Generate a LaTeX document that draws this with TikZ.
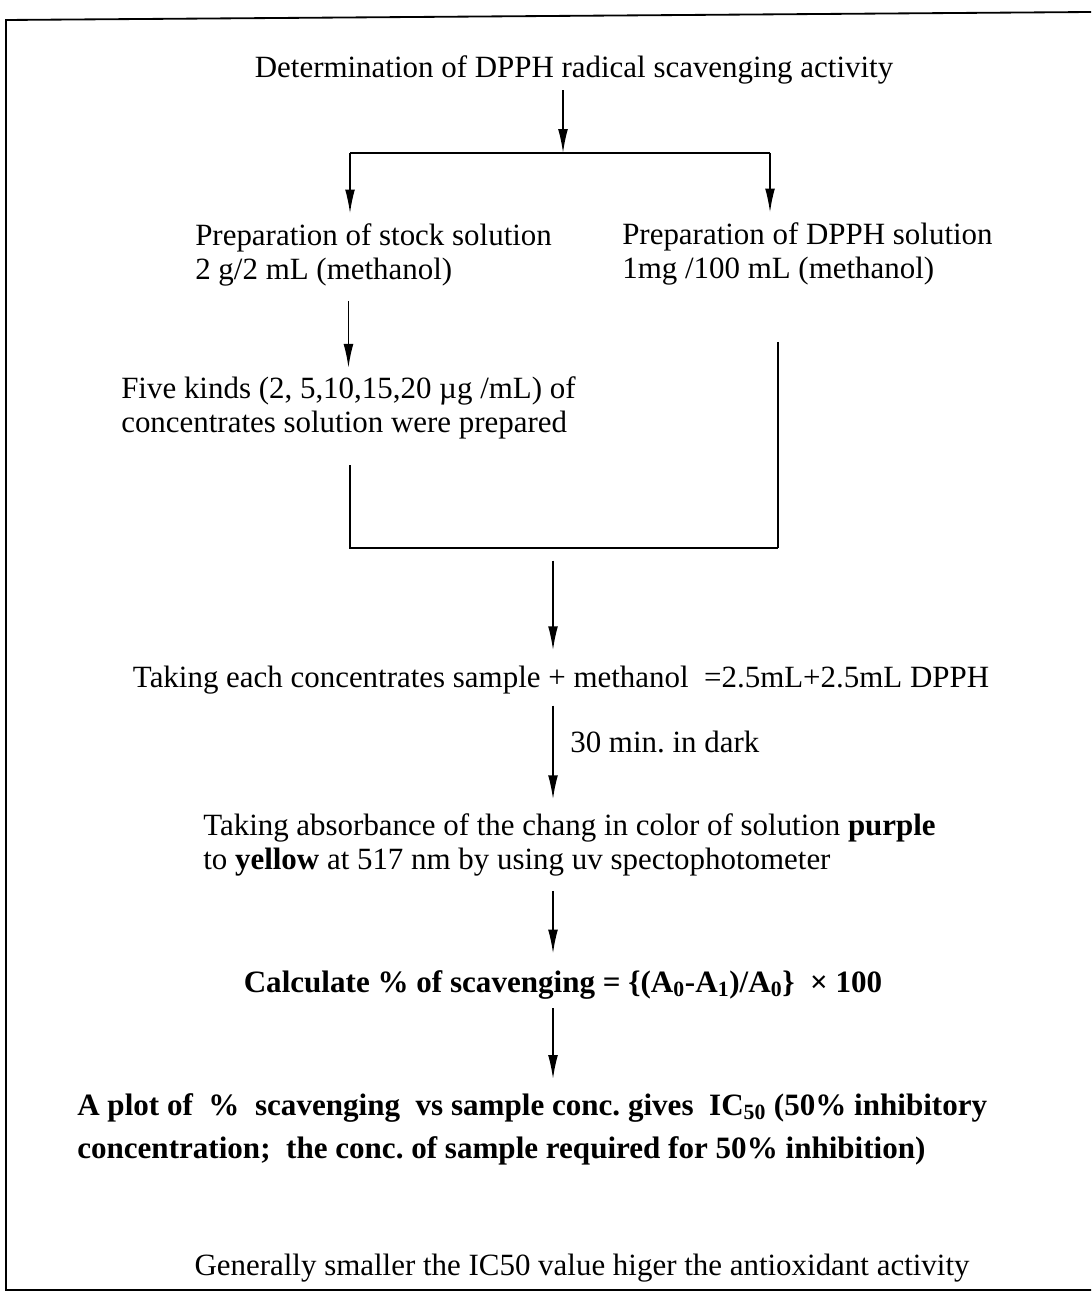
\documentclass[tikz,border=0pt]{standalone}
\usepackage{fontspec}
\setmainfont{Liberation Serif}
\usetikzlibrary{arrows.meta, positioning, calc}

\begin{document}
\frenchspacing
\begin{tikzpicture}[
    x=0.025cm, y=-0.025cm,
    txt/.style={inner sep=0pt, align=left, font=\fontsize{22}{24.5}\selectfont},
    boldtxt/.style={txt, font=\fontsize{22.1}{30.5}\selectfont\bfseries},
    arrow/.style={-{Latex[length=17pt, width=7pt]}, line width=1.1pt},
    link/.style={line width=1.1pt},
    frame/.style={line width=1.3pt}
]
\useasboundingbox (0,0) rectangle (1091,1299);

% =================== FRAME ===================
\coordinate (fTL) at (6,20);
\coordinate (fTR) at (1091,12);
\coordinate (fBL) at (6,1290);
\coordinate (fBR) at (1091,1290);
\draw[frame] (fTR) -- (fTL) -- (fBL) -- (fBR);

% =================== TITLE AND SPLIT ===================
\node[txt] (title) at (574,70) {Determination of DPPH radical scavenging activity};

\coordinate (barL) at (350,153);
\coordinate (barM) at (563,153);
\coordinate (barR) at (770,153);

\draw[arrow, shorten <=4pt] (barM |- title.south) -- (barM);
\draw[link] (barL) -- (barR);

% =================== TWO SOLUTIONS ===================
\node[txt, anchor=west] (stock) at (195,255)
    {Preparation of stock solution\\2 g/2 mL (methanol)};
\node[txt, anchor=west] (dpph) at (622,254)
    {Preparation of DPPH solution\\1mg /100 mL (methanol)};

\draw[arrow, shorten >=7pt] (barL) -- (barL |- stock.north);
\draw[arrow, shorten >=7pt] (barR) -- (barR |- dpph.north);

% five concentrations
\node[txt, anchor=west] (five) at (121,408)
    {Five kinds (2, 5,10,15,20 µg /mL) of\\concentrates solution were prepared};

\draw[arrow, shorten <=10pt, shorten >=6pt] (stock.south -| five.north) -- (five.north);

% =================== MERGE ===================
\coordinate (mergeL) at (350,548);
\coordinate (mergeM) at (553,548);
\coordinate (mergeR) at (778,548);

\draw[link, shorten <=18pt] (five.south -| mergeL) -- (mergeL) -- (mergeR);
\draw[link, shorten <=40pt] (dpph.south -| mergeR) -- (mergeR);

% =================== MIXING ===================
\node[txt] (mix) at (561,680)
    {Taking each concentrates sample + methanol \ =2.5mL+2.5mL DPPH};

\draw[arrow, shorten <=9pt, shorten >=11pt] (mergeM) -- (mergeM |- mix.north);

\node[txt, anchor=west] (dark) at (570,742) {30 min. in dark};

\node[txt, anchor=west] (absorb) at (203,845)
    {Taking absorbance of the chang in color of solution \textbf{purple}\\
     to \textbf{yellow} at 517 nm by using uv spectophotometer};

\draw[arrow, shorten <=8pt, shorten >=10pt] (mix.south -| mergeM) -- (absorb.north -| mergeM);

% =================== RESULT ===================
\node[boldtxt] (calc) at (563,985)
    {Calculate \% of scavenging = \{(A\textsubscript{0}-A\textsubscript{1})/A\textsubscript{0}\} \ × 100};

\draw[arrow, shorten <=10pt, shorten >=12pt] (absorb.south -| mergeM) -- (calc.north -| mergeM);

\node[boldtxt, anchor=west] (plot) at (77,1129)
    {A plot of \ \% \ scavenging \ vs sample conc. gives \ IC\textsubscript{50} (50\% inhibitory\\
     concentration; \ the conc. of sample required for 50\% inhibition)};

\draw[arrow, shorten <=6pt, shorten >=10pt] (calc.south -| mergeM) -- (plot.north -| mergeM);

\node[txt] (note) at (582,1268)
    {Generally smaller the IC50 value higer the antioxidant activity};

\end{tikzpicture}
\end{document}
